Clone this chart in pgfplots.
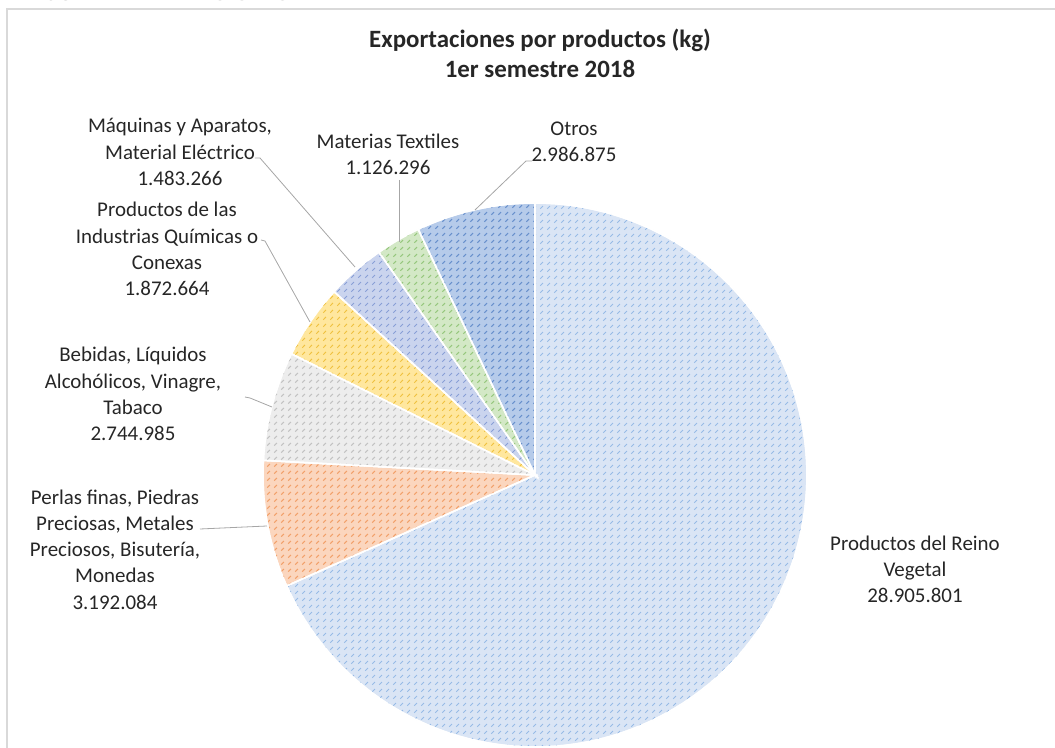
\documentclass[border=0pt]{standalone}
\usepackage{pgfplots}
\pgfplotsset{compat=1.18}
\usepackage{pgfplotstable}
\usepackage{fontspec}
\setmainfont{Carlito}
\usetikzlibrary{patterns.meta}

\tikzdeclarepattern{
  name=dashdiag,
  type=uncolored,
  bounding box={(0,0) and (7bp,7bp)},
  tile size={(7bp,7bp)},
  code={\draw[line width=1.2bp] (1.5bp,1.5bp) -- (4.5bp,4.5bp);}
}

\definecolor{s0}{HTML}{DAE5F5}\definecolor{p0}{HTML}{96BAE6}
\definecolor{s1}{HTML}{FBD6BE}\definecolor{p1}{HTML}{F2A06A}
\definecolor{s2}{HTML}{EDEDED}\definecolor{p2}{HTML}{C2C2C2}
\definecolor{s3}{HTML}{FFE79E}\definecolor{p3}{HTML}{EFC140}
\definecolor{s4}{HTML}{CAD4EE}\definecolor{p4}{HTML}{889ED6}
\definecolor{s5}{HTML}{D3E8C6}\definecolor{p5}{HTML}{96C77D}
\definecolor{s6}{HTML}{B6CBEA}\definecolor{p6}{HTML}{6890CC}
\definecolor{lbl}{HTML}{262626}

% values (kg), in pie order starting at 12 o'clock, clockwise
\pgfplotstableread{
value
28905801
3192084
2744985
1872664
1483266
1126296
2986875
}\piedata

\begin{document}
\begin{tikzpicture}
\begin{axis}[
  width=1055bp, height=748bp, scale only axis,
  xmin=-535, xmax=520, ymin=-273, ymax=475,
  hide axis, clip=false,
]
% frame and header remnant
\draw[black!15, line width=1.2bp] (axis cs:-528,-300) -- (axis cs:-528,466) -- (axis cs:560,466);
\node[anchor=base west, text=black!55, font=\fontsize{27}{30}\selectfont] at (axis cs:-490,474) {JUNTA DE AVIACIÓN CIVIL};

\def\total{0}
\pgfplotsforeachungrouped \i in {0,...,6}{%
  \pgfplotstablegetelem{\i}{value}\of\piedata
  \edef\total{\fpeval{\total+\pgfplotsretval}}%
}
\def\astart{90}
\pgfplotsforeachungrouped \i in {0,...,6}{%
  \pgfplotstablegetelem{\i}{value}\of\piedata
  \edef\aend{\fpeval{\astart-360*\pgfplotsretval/\total}}%
  \edef\cmd{\noexpand\addplot[draw=white, line width=1.5bp, fill=s\i,
     postaction={pattern={dashdiag}, pattern color=p\i},
     data cs=polar, domain=\aend:\astart, samples=120]
     ({x},{272}) -- (axis cs:0,0) -- cycle;}%
  \cmd
  \let\astart\aend
}

% leader lines
\addplot[draw=black!35, line width=0.8bp] coordinates {(-280,317) (-275,317) (-180,208)};
\addplot[draw=black!35, line width=0.8bp] coordinates {(-136,295) (-136,233)};
\addplot[draw=black!35, line width=0.8bp] coordinates {(-3,314) (-9,314) (-60,265)};
\addplot[draw=black!35, line width=0.8bp] coordinates {(-274,235) (-270,234) (-225,153)};
\addplot[draw=black!35, line width=0.8bp] coordinates {(-290,78) (-285,77) (-263,68)};
\addplot[draw=black!35, line width=0.8bp] coordinates {(-335,-54) (-268,-51)};

% title
\node[align=center, text=lbl, font=\fontsize{25}{30}\selectfont\bfseries] at (axis cs:5,422)
  {Exportaciones por productos (kg)\\1er semestre 2018};

% labels
\tikzset{lab/.style={align=center, text=lbl, font=\fontsize{21}{26.4}\selectfont}}
\node[lab] at (axis cs:-355,323) {Máquinas y Aparatos,\\Material Eléctrico\\1.483.266};
\node[lab] at (axis cs:-147,320.5) {Materias Textiles\\1.126.296};
\node[lab] at (axis cs:39,333.5) {Otros\\2.986.875};
\node[lab] at (axis cs:-368,226) {Productos de las\\Industrias Químicas o\\Conexas\\1.872.664};
\node[lab] at (axis cs:-402,81) {Bebidas, Líquidos\\Alcohólicos, Vinagre,\\Tabaco\\2.744.985};
\node[lab] at (axis cs:-420,-74.5) {Perlas finas, Piedras\\Preciosas, Metales\\Preciosos, Bisutería,\\Monedas\\3.192.084};
\node[lab] at (axis cs:380,-94.5) {Productos del Reino\\Vegetal\\28.905.801};
\end{axis}
\pgfresetboundingbox
\path (0,0) rectangle (1055bp,748bp);
\end{tikzpicture}
\end{document}
